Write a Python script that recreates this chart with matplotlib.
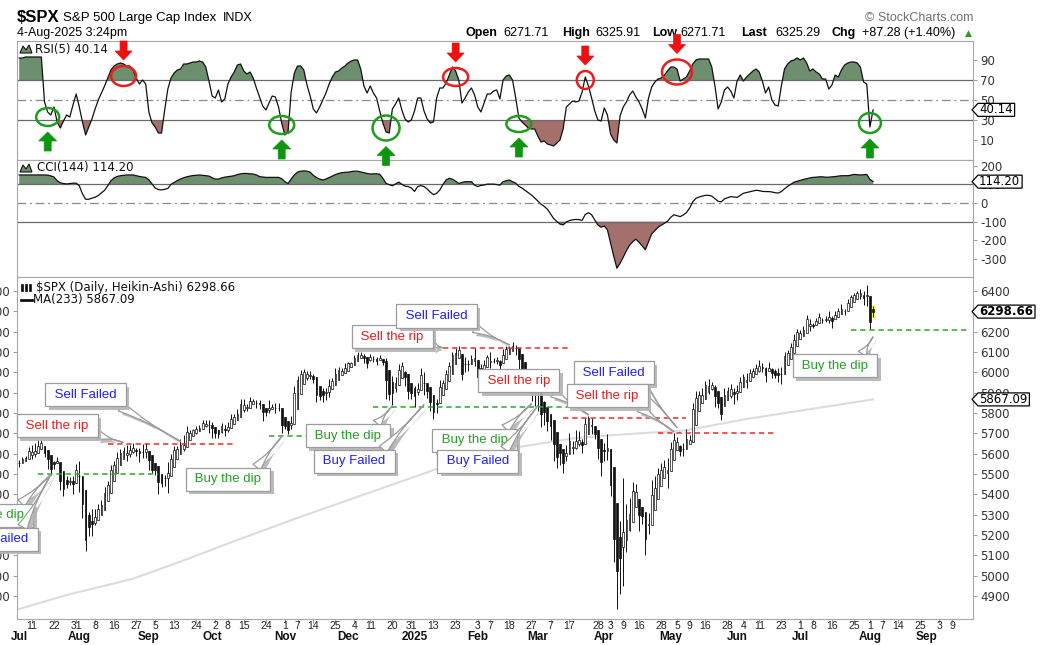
import numpy as np
import pandas as pd
import matplotlib
matplotlib.use("Agg")
import matplotlib.pyplot as plt
from matplotlib.collections import LineCollection, PatchCollection
from matplotlib.patches import Ellipse, Polygon, Rectangle
from matplotlib.transforms import IdentityTransform, blended_transform_factory
import matplotlib.patheffects as pe

# ---------------- DATA ----------------
FIRST_DATE = "2024-07-05"
HOLIDAYS = ["2024-06-19", "2024-07-04", "2024-09-02", "2024-11-28", "2024-12-25",
            "2025-01-01", "2025-01-09", "2025-01-20", "2025-02-17", "2025-04-18",
            "2025-05-26", "2025-06-19", "2025-07-04", "2025-09-01"]

opens = [5537,5572,5584,5591,5636,5591,5638,5644,5610,5608,
5544,5543,5565,5506,5429,5433,5477,5479,5505,5537,
5377,5151,5206,5294,5252,5313,5351,5376,5443,5502,
5531,5558,5609,5604,5638,5603,5639,5603,5624,5608,
5612,5612,5506,5530,5507,5442,5490,5496,5558,5604,
5615,5655,5641,5703,5709,5713,5728,5733,5762,5756,
5727,5758,5699,5696,5737,5737,5714,5751,5778,5775,
5829,5867,5816,5875,5860,5857,5833,5834,5810,5827,
5830,5819,5833,5775,5724,5724,5722,5864,5947,5977,
6008,6004,5985,5989,5912,5870,5860,5919,5935,5947,
5992,6000,6014,6003,6040,6043,6059,6090,6082,6084,
6057,6060,6074,6068,6063,6053,6047,5913,5843,5941,
5985,6024,6006,5921,5920,5903,5892,5983,5994,5911,
5890,5783,5866,5905,5963,5986,6015,6082,6076,6121,
5970,6027,6058,6058,6096,5970,5998,6021,6072,6084,
6046,6049,6025,6060,6116,6121,6118,6134,6115,6027,
5983,5971,5981,5856,5969,5811,5782,5786,5726,5705,
5604,5624,5594,5563,5635,5654,5632,5646,5630,5718,
5776,5772,5696,5680,5527,5598,5580,5492,5292,4953,
5193,4965,5353,5255,5441,5411,5335,5305,5232,5207,
5395,5381,5489,5529,5508,5499,5626,5645,5655,5605,
5623,5663,5679,5807,5854,5895,5867,5929,5903,5951,
5924,5842,5781,5854,5925,5939,5903,5897,5938,5978,
5985,5988,6005,6009,6049,6010,5997,6005,6013,5987,
6005,5970,6061,6100,6112,6150,6194,6187,6193,6244,
6259,6234,6240,6269,6255,6255,6296,6260,6270,6308,
6304,6307,6326,6368,6371,6397,6410,6376,6428,6268,
6272]

highs = [5570,5583,5590,5635,5642,5655,5667,5667,5622,5615,
5557,5566,5586,5508,5491,5488,5487,5489,5551,5566,
5397,5250,5312,5330,5328,5351,5371,5436,5464,5546,
5563,5608,5621,5632,5644,5642,5651,5630,5627,5647,
5651,5612,5552,5552,5523,5484,5497,5560,5600,5636,
5637,5670,5690,5734,5716,5722,5736,5742,5767,5764,
5765,5758,5719,5714,5753,5739,5757,5796,5796,5822,
5871,5870,5846,5879,5871,5866,5863,5835,5817,5862,
5843,5848,5851,5776,5772,5741,5783,5933,5983,6012,
6017,6009,6008,5994,5915,5909,5923,5921,5965,5974,
6020,6025,6021,6044,6053,6052,6087,6099,6099,6088,
6066,6092,6080,6078,6085,6058,6070,5935,5982,5979,
6041,6049,6007,5941,5929,5935,5949,6021,6000,5927,
5890,5838,5871,5960,5964,6014,6052,6101,6119,6128,
6018,6074,6062,6086,6120,6022,6042,6062,6084,6101,
6073,6076,6063,6116,6128,6129,6147,6134,6117,6044,
5993,6000,5994,5959,5987,5865,5860,5812,5783,5706,
5636,5642,5598,5645,5703,5660,5715,5711,5670,5775,
5786,5776,5732,5685,5616,5651,5695,5500,5292,5246,
5268,5481,5353,5381,5459,5450,5367,5328,5232,5309,
5469,5489,5528,5553,5567,5581,5659,5700,5683,5643,
5655,5721,5691,5847,5907,5907,5925,5958,5969,5954,
5939,5878,5829,5924,5929,5943,5922,5937,5978,5991,
5999,6017,6021,6043,6059,6046,6027,6050,6023,6018,
6019,6028,6101,6109,6146,6188,6215,6210,6227,6284,
6262,6243,6269,6290,6269,6275,6302,6275,6302,6316,
6336,6310,6359,6382,6390,6402,6410,6399,6428,6268,
6326]

lows = [5534,5563,5574,5586,5576,5583,5619,5632,5583,5523,
5497,5525,5553,5420,5391,5430,5444,5401,5505,5411,
5283,5119,5193,5195,5249,5302,5325,5376,5419,5497,
5528,5551,5584,5592,5565,5585,5603,5590,5561,5577,
5581,5522,5503,5497,5402,5434,5442,5406,5536,5600,
5603,5615,5615,5681,5683,5703,5698,5712,5720,5730,
5704,5675,5677,5675,5703,5686,5708,5745,5763,5775,
5824,5804,5808,5840,5846,5824,5821,5762,5784,5799,
5823,5800,5810,5703,5723,5696,5722,5864,5944,5976,
5986,5964,5966,5946,5853,5866,5855,5866,5879,5942,
5963,5992,5985,6003,6035,6034,6056,6074,6079,6048,
6021,6057,6051,6035,6059,6036,5867,5866,5832,5903,
5982,6007,5932,5869,5869,5830,5889,5960,5890,5874,
5809,5773,5801,5905,5935,5978,6009,6074,6074,6088,
5962,6000,6008,6047,6031,5923,5990,6008,6056,6020,
6046,6043,6004,6050,6107,6099,6111,6085,6009,5977,
5908,5930,5858,5837,5810,5732,5743,5711,5667,5565,
5529,5546,5505,5563,5631,5598,5622,5640,5603,5718,
5763,5696,5670,5572,5489,5562,5571,5391,5069,4835,
4910,4950,5115,5220,5358,5387,5220,5255,5101,5207,
5356,5371,5455,5468,5505,5433,5597,5644,5640,5590,
5587,5640,5647,5787,5854,5868,5851,5914,5896,5912,
5830,5827,5768,5854,5886,5875,5843,5862,5922,5967,
5921,5986,5994,6000,6002,6004,5953,6005,5974,5971,
5952,5944,6059,6081,6107,6133,6178,6178,6187,6240,
6201,6216,6236,6259,6241,6248,6243,6220,6264,6288,
6303,6280,6316,6361,6365,6379,6361,6332,6325,6212,
6272]

closes = [5567,5572,5577,5633,5585,5615,5631,5667,5589,5545,
5505,5564,5555,5427,5399,5459,5464,5436,5522,5446,
5346,5186,5240,5199,5319,5344,5344,5434,5455,5543,
5554,5608,5597,5621,5571,5635,5617,5626,5592,5592,
5648,5529,5520,5503,5408,5471,5496,5554,5596,5626,
5633,5634,5618,5714,5703,5719,5732,5722,5745,5738,
5762,5709,5710,5700,5751,5696,5751,5792,5780,5815,
5859,5815,5842,5841,5865,5853,5851,5797,5809,5808,
5823,5832,5813,5705,5729,5712,5782,5929,5973,5996,
6001,5984,5985,5949,5871,5894,5917,5917,5949,5969,
5987,6021,5999,6032,6047,6050,6087,6075,6090,6053,
6035,6085,6051,6051,6074,6050,5872,5867,5931,5974,
6040,6037,5971,5907,5882,5869,5942,5975,5909,5918,
5827,5836,5843,5950,5937,5997,6049,6086,6119,6101,
6012,6068,6039,6071,6041,5994,6037,6061,6084,6026,
6066,6069,6052,6115,6115,6129,6144,6118,6013,5983,
5955,5956,5861,5955,5850,5778,5842,5739,5770,5615,
5572,5599,5522,5639,5675,5615,5676,5663,5668,5768,
5777,5712,5693,5581,5612,5633,5671,5397,5074,5062,
4983,5457,5268,5363,5406,5397,5276,5283,5158,5288,
5376,5485,5525,5529,5561,5569,5604,5687,5650,5607,
5631,5664,5660,5844,5887,5892,5917,5958,5964,5940,
5845,5842,5803,5922,5889,5912,5912,5936,5970,5971,
5939,6000,6006,6038,6022,6045,5977,6033,5982,5981,
5967,6025,6092,6092,6141,6173,6205,6198,6227,6279,
6230,6226,6263,6280,6260,6269,6244,6264,6297,6297,
6306,6309,6359,6363,6389,6390,6371,6362,6339,6238,
6325]

rsi5 = [92,92,93,93,93,93,93,93,48,38,
35,43,28,22,29,35,33,45,56,43,
28,15,23,31,41,50,57,64,72,80,
84,86,87,86,84,84,80,72,66,70,
66,38,27,23,17,17,40,61,72,77,
80,81,86,86,87,88,88,89,88,83,
69,54,52,60,48,51,66,73,78,85,
86,79,76,78,72,62,53,44,40,47,
54,53,43,27,15,18,58,77,84,84,
80,65,54,41,37,43,50,57,66,73,
78,79,82,84,87,89,90,90,81,64,
57,64,57,52,39,27,18,17,41,46,
52,40,31,28,30,39,52,52,39,31,
27,28,52,62,62,67,75,83,79,70,
47,52,58,62,55,43,38,47,56,56,
59,60,51,70,74,75,70,52,32,28,
25,22,21,21,14,8,9,6,5,4,
7,10,21,43,46,49,48,49,58,73,
64,52,39,30,29,42,35,16,10,7,
34,43,48,55,59,53,48,41,32,52,
63,68,71,72,75,79,83,83,81,69,
71,73,79,86,90,91,91,91,91,83,
64,41,48,60,63,59,52,69,75,69,
73,76,79,81,78,69,57,63,50,45,
44,64,81,86,89,90,92,90,92,87,
79,81,78,76,71,71,61,65,75,73,
80,85,87,88,88,87,83,68,66,23,
40.14]

cci144 = [150,150,150,150,150,150,150,150,150,149,
145,139,119,108,104,102,104,106,106,92,
49,20,20,26,31,40,54,68,92,119,
134,142,146,148,150,150,150,146,142,139,
137,124,102,80,72,70,73,78,100,110,
120,128,135,140,144,147,148,150,148,146,
144,135,128,128,134,138,141,143,146,152,
156,158,158,156,155,150,141,139,137,137,
137,137,137,130,114,104,128,150,165,170,
172,170,165,148,136,128,123,128,136,144,
152,158,162,164,165,168,170,170,166,162,
158,155,156,156,154,132,105,98,92,102,
112,100,90,88,80,62,88,93,88,75,
58,45,52,70,99,123,132,127,117,104,
110,114,114,114,95,88,94,96,101,101,
101,99,95,114,119,123,114,106,89,80,
67,55,42,27,10,-6,-18,-33,-58,-83,
-99,-113,-117,-102,-94,-90,-88,-89,-93,-61,
-52,-63,-90,-118,-130,-123,-144,-215,-285,-349,
-323,-290,-255,-226,-207,-194,-210,-230,-250,-207,
-165,-148,-130,-119,-109,-98,-77,-63,-68,-73,
-64,-51,-27,7,25,32,37,41,41,37,
23,9,6,22,28,34,32,30,41,52,
56,60,64,68,66,62,61,61,59,55,
53,61,76,89,100,111,116,121,126,130,
134,137,138,140,140,138,138,140,141,144,
146,146,146,149,153,151,150,151,153,127,
114.20]

ma_dates = ["2024-07-05", "2024-07-26", "2024-08-26", "2024-09-19", "2024-10-10",
            "2024-11-08", "2024-12-11", "2025-01-15", "2025-02-21", "2025-03-18",
            "2025-04-08", "2025-05-08", "2025-06-04", "2025-06-27", "2025-08-04"]
ma_values = [4836, 4905, 4985, 5081, 5170, 5290, 5410, 5530, 5633, 5675,
             5694, 5715, 5768, 5807, 5867]

tick_dates = ["2024-07-11", "2024-07-22", "2024-07-31", "2024-08-08", "2024-08-16", "2024-08-27",
              "2024-09-05", "2024-09-13", "2024-09-24", "2024-10-02", "2024-10-08", "2024-10-15",
              "2024-10-24", "2024-11-01", "2024-11-07", "2024-11-14", "2024-11-25", "2024-12-04",
              "2024-12-11", "2024-12-20", "2024-12-31", "2025-01-13", "2025-01-23", "2025-02-03",
              "2025-02-07", "2025-02-18", "2025-02-27", "2025-03-07", "2025-03-17", "2025-03-28",
              "2025-04-03", "2025-04-09", "2025-04-16", "2025-04-28", "2025-05-05", "2025-05-09",
              "2025-05-16", "2025-05-28", "2025-06-04", "2025-06-11", "2025-06-23", "2025-07-01",
              "2025-07-08", "2025-07-16", "2025-07-25", "2025-08-01", "2025-08-07", "2025-08-14",
              "2025-08-25", "2025-09-03", "2025-09-09"]
month_labels = ["Jul", "Aug", "Sep", "Oct", "Nov", "Dec", "2025", "Feb", "Mar", "Apr",
                "May", "Jun", "Jul", "Aug", "Sep"]
month_dates = ["2024-07-05", "2024-08-01", "2024-09-03", "2024-10-01", "2024-11-01",
               "2024-12-02", "2025-01-02", "2025-02-03", "2025-03-03", "2025-04-01",
               "2025-05-01", "2025-06-02", "2025-07-01", "2025-08-01", "2025-08-27"]

price_ticks = [4900, 5000, 5100, 5200, 5300, 5400, 5500, 5600, 5700, 5800, 5900,
               6000, 6100, 6200, 6300, 6400]
rsi_ticks = [10, 30, 50, 70, 90]
cci_ticks = [200, 100, 0, -100, -200, -300]

# annotation lines (user drawn levels)
level_values = [5650, 5498, 5689, 5831, 6120, 5777, 5704, 6209]
level_start = ["2024-08-14", "2024-07-15", "2024-10-25", "2024-12-12", "2025-01-16",
               "2025-03-13", "2025-04-25", "2025-07-24"]
level_end = ["2024-10-10", "2024-09-06", "2024-12-20", "2025-03-18", "2025-03-17",
             "2025-05-08", "2025-06-18", "2025-09-16"]
level_kind = ["sell", "buy", "buy", "buy", "sell", "sell", "sell", "buy"]

# callouts
call_text = ["Sell the rip", "Sell Failed", "Buy the dip", "Buy Failed", "Buy the dip",
             "Buy the dip", "Buy Failed", "Sell the rip", "Sell Failed", "Buy the dip",
             "Buy Failed", "Sell the rip", "Sell Failed", "Sell the rip", "Buy the dip"]
call_box_date = ["2024-07-23", "2024-08-05", "2024-06-21", "2024-06-25", "2024-10-08",
                 "2024-12-02", "2024-12-04", "2024-12-20", "2025-01-14", "2025-01-31",
                 "2025-02-03", "2025-02-21", "2025-04-04", "2025-04-02", "2025-07-17"]
call_box_price = [5738, 5890, 5297, 5180, 5474, 5689, 5562, 6175, 6277, 5665,
                  5562, 5959, 5998, 5885, 6032]
call_tip_date = ["2024-08-21", "2024-09-17", "2024-07-19", "2024-07-19", "2024-10-31",
                 "2024-12-20", "2025-01-07", "2025-01-16", "2025-02-18", "2025-02-27",
                 "2025-03-03", "2025-03-25", "2025-05-05", "2025-05-02", "2025-08-04"]
call_tip_price = [5655, 5660, 5498, 5498, 5684, 5836, 5841, 6121, 6135, 5846,
                  5836, 5792, 5728, 5709, 6175]

# RSI signal circles
sig_dates = ["2024-07-18", "2024-08-21", "2024-10-31", "2024-12-18", "2025-01-23",
             "2025-02-21", "2025-03-24", "2025-05-05", "2025-08-01"]
sig_levels = [33, 74, 25, 22, 73, 26, 70, 78, 27]
sig_kind = ["buy", "sell", "buy", "buy", "sell", "buy", "sell", "sell", "buy"]

# ---------------- STYLE ----------------
W, H = 1041, 645
C_GREEN_FILL = "#6d8f6d"
C_RED_FILL = "#a4706c"
C_RED = "#ee1c1c"
C_GREEN = "#1e9e1e"
C_BLUE = "#1f1fff"
TXT_COL = {"Sell the rip": "#f01a1a", "Sell Failed": C_BLUE, "Buy the dip": "#22a322",
           "Buy Failed": C_BLUE}
LEVEL_COL = {"sell": "#f02a2a", "buy": "#2ea62e"}
NARROW = ["Liberation Sans Narrow", "Liberation Sans"]

plt.rcParams["font.family"] = ["DejaVu Sans"]

cal = pd.bdate_range("2024-06-03", "2025-10-31")
cal = cal[~cal.isin(pd.to_datetime(HOLIDAYS))]
base = cal.get_loc(pd.Timestamp(FIRST_DATE))


def xi(d):
    return cal.get_loc(pd.Timestamp(d)) - base


n = min(len(opens), len(highs), len(lows), len(closes), len(rsi5), len(cci144))
o = np.array(opens[:n], float)
h = np.array(highs[:n], float)
l = np.array(lows[:n], float)
c = np.array(closes[:n], float)
x = np.arange(n)

# Heikin-Ashi transform of the OHLC bars
ha_c = (o + h + l + c) / 4.0
ha_o = np.empty(n)
ha_o[0] = (o[0] + c[0]) / 2.0
for k in range(1, n):
    ha_o[k] = (ha_o[k - 1] + ha_c[k - 1]) / 2.0
ha_h = np.maximum.reduce([h, ha_o, ha_c])
ha_l = np.minimum.reduce([l, ha_o, ha_c])

fig = plt.figure(figsize=(W / 100, H / 100), dpi=100, facecolor="white")


def rect(x0, y0, x1, y1):
    return [x0 / W, 1 - y1 / H, (x1 - x0) / W, (y1 - y0) / H]


def ptext(px, py, s, **kw):
    return fig.text(px / W, 1 - py / H, s, **kw)


ax_rsi = fig.add_axes(rect(17, 41, 973, 160))
ax_cci = fig.add_axes(rect(17, 160, 973, 277))
ax_px = fig.add_axes(rect(17, 277, 973, 619))
XL = (-0.7, 301.6)
for ax in (ax_rsi, ax_cci, ax_px):
    ax.set_xlim(*XL)
    for s in ax.spines.values():
        s.set_color("#a8a8a8")
        s.set_linewidth(0.8)
    ax.tick_params(axis="y", which="both", direction="out", length=3, width=0.6,
                   color="#8a8a8a", labelsize=8.5, labelcolor="#333333", pad=2)
for ax in (ax_rsi, ax_cci):
    ax.set_xticks([])
    ax.yaxis.tick_right()

# ---------- RSI ----------
rsi = np.array(rsi5[:n], float)
ax_rsi.set_ylim(-10, 109)
ax_rsi.fill_between(x, rsi, 70, where=rsi >= 70, interpolate=True, color=C_GREEN_FILL, lw=0)
ax_rsi.fill_between(x, rsi, 30, where=rsi <= 30, interpolate=True, color=C_RED_FILL, lw=0)
ax_rsi.axhline(70, color="#6a6a6a", lw=0.9)
ax_rsi.axhline(30, color="#6a6a6a", lw=0.9)
ax_rsi.axhline(50, color="#8a8a8a", lw=0.9, ls=(0, (7, 3, 1.5, 3)))
ax_rsi.plot(x, rsi, color="#111111", lw=0.9)
ax_rsi.set_yticks(rsi_ticks)
ax_rsi.set_yticklabels([str(v) for v in rsi_ticks])

# ---------- CCI ----------
cci = np.array(cci144[:n], float)
ax_cci.set_ylim(-396, 230)
ax_cci.fill_between(x, cci, 100, where=cci >= 100, interpolate=True, color=C_GREEN_FILL, lw=0)
ax_cci.fill_between(x, cci, -100, where=cci <= -100, interpolate=True, color=C_RED_FILL, lw=0)
ax_cci.axhline(100, color="#6a6a6a", lw=0.9)
ax_cci.axhline(-100, color="#6a6a6a", lw=0.9)
ax_cci.axhline(0, color="#8a8a8a", lw=0.9, ls=(0, (7, 3, 1.5, 3)))
ax_cci.plot(x, cci, color="#111111", lw=0.9)
ax_cci.set_yticks(cci_ticks)
ax_cci.set_yticklabels([str(v) for v in cci_ticks])

# ---------- PRICE ----------
ax_px.set_ylim(4787, 6469)
ax_px.plot([xi(d) for d in ma_dates], ma_values, color="#dcdcdc", lw=1.5, zorder=1)
# highlight last bar
ax_px.add_patch(Rectangle((x[-1] - 0.9, ha_l[-1] - 4), 1.8, ha_h[-1] - ha_l[-1] + 8,
                          fc="#ffff66", ec="none", zorder=1.5))
wicks = [[(xx, lo), (xx, hi)] for xx, lo, hi in zip(x, ha_l, ha_h)]
ax_px.add_collection(LineCollection(wicks, colors="#111111", linewidths=0.7, zorder=2))
bw = 0.55
bodies_up, bodies_dn = [], []
for xx, oo, cc in zip(x, ha_o, ha_c):
    lo, hi = min(oo, cc), max(oo, cc)
    r = Rectangle((xx - bw / 2, lo), bw, max(hi - lo, 1.0))
    (bodies_up if cc >= oo else bodies_dn).append(r)
ax_px.add_collection(PatchCollection(bodies_up, facecolor="white", edgecolor="#111111",
                                     linewidths=0.5, zorder=3))
ax_px.add_collection(PatchCollection(bodies_dn, facecolor="#111111", edgecolor="#111111",
                                     linewidths=0.5, zorder=3))

for lv, s0, s1, kd in zip(level_values, level_start, level_end, level_kind):
    ax_px.hlines(lv, xi(s0), xi(s1), colors=LEVEL_COL[kd], linestyles=(0, (3.5, 2.5)),
                 lw=1.1, zorder=4)

ax_px.set_yticks(price_ticks)
ax_px.set_yticklabels([str(v) for v in price_ticks])
ax_px.tick_params(axis="y", left=True, right=True, labelleft=True, labelright=True)
ax_px.set_xticks([xi(d) for d in tick_dates])
ax_px.set_xticklabels([])
ax_px.tick_params(axis="x", direction="out", length=3, width=0.6, color="#8a8a8a")

# callouts
for txt, bd, bp, td, tp in zip(call_text, call_box_date, call_box_price, call_tip_date,
                               call_tip_price):
    bx, tx = xi(bd), xi(td)
    rx = 0.8 if tx > bx else 0.2
    ry = 0.8 if tp > bp else 0.2
    ann = ax_px.annotate(" " + txt + " ", xy=(tx, tp), xytext=(bx, bp), textcoords="data",
                         ha="center", va="center", fontsize=9.5, color=TXT_COL[txt],
                         family="Liberation Sans", zorder=6, annotation_clip=False,
                         bbox=dict(boxstyle="square,pad=0.42", fc="white", ec="#9c9c9c", lw=0.9),
                         arrowprops=dict(arrowstyle="wedge,tail_width=0.75,shrink_factor=0.08",
                                         fc="white", ec="#9c9c9c", lw=0.9, relpos=(rx, ry),
                                         shrinkA=0, shrinkB=0))
    shadow = [pe.SimplePatchShadow(offset=(2.5, -2.5), shadow_rgbFace="#b4b4b4", alpha=0.9),
              pe.Normal()]
    ann.get_bbox_patch().set_path_effects(shadow)
    ann.arrow_patch.set_path_effects(shadow)

# ---------- x labels ----------
tr = blended_transform_factory(ax_px.transData, fig.transFigure)
for d in tick_dates:
    ax_px.text(xi(d), 1 - 626 / H, str(pd.Timestamp(d).day), transform=tr, ha="center",
               va="center", fontsize=7.5, color="#222222", family=NARROW, clip_on=False)
for lab, d in zip(month_labels, month_dates):
    ax_px.text(xi(d), 1 - 637 / H, lab, transform=tr, ha="center", va="center",
               fontsize=8.5, fontweight="bold", color="#111111", family=NARROW, clip_on=False)

# ---------- RSI circles / arrows ----------
ppd = ax_rsi.transData.transform((1, 0))[0] - ax_rsi.transData.transform((0, 0))[0]
ppu = ax_rsi.transData.transform((0, 1))[1] - ax_rsi.transData.transform((0, 0))[1]
sig_w = [23, 25, 25, 27, 25, 25, 17, 30, 22]
sig_h = [18, 20, 18, 25, 18, 16, 18, 25, 20]
for d, lv, kd, wpx, hpx in zip(sig_dates, sig_levels, sig_kind, sig_w, sig_h):
    col = C_RED if kd == "sell" else C_GREEN
    ax_rsi.add_patch(Ellipse((xi(d), lv), wpx / ppd, hpx / ppu, fill=False, ec=col, lw=1.8,
                             zorder=6, clip_on=False))
    cx, cy = ax_rsi.transData.transform((xi(d), lv))
    if kd == "sell":
        yt = cy + hpx / 2 + 6
        pts = [(cx - 3.5, yt + 19), (cx + 3.5, yt + 19), (cx + 3.5, yt + 9), (cx + 8.5, yt + 9),
               (cx, yt), (cx - 8.5, yt + 9), (cx - 3.5, yt + 9)]
        acol = "#ec1010"
    else:
        yt = cy - hpx / 2 - 6
        pts = [(cx - 3.5, yt - 19), (cx + 3.5, yt - 19), (cx + 3.5, yt - 9), (cx + 9, yt - 9),
               (cx, yt), (cx - 9, yt - 9), (cx - 3.5, yt - 9)]
        acol = "#0e960e"
    fig.add_artist(Polygon(pts, closed=True, transform=IdentityTransform(), fc=acol, ec=acol,
                           lw=0.5, zorder=10))

# ---------- legends ----------
LG = dict(fontsize=8.5, color="#111111", va="center", ha="left", family="DejaVu Sans")
ptext(35, 49, "RSI(5) 40.14", **LG)
ptext(37, 168, "CCI(144) 114.20", **LG)
ptext(36, 287, "$SPX (Daily, Heikin-Ashi) 6298.66", **LG)
ptext(33, 300, "MA(233) 5867.09", **LG)


def disp(px, py):
    return (px, H - py)


for yy in (49, 168):
    fig.add_artist(Polygon([disp(20, yy + 4), disp(23, yy - 3), disp(26, yy + 1),
                            disp(29, yy - 4), disp(32, yy + 4)], closed=True,
                           transform=IdentityTransform(), fc=C_GREEN_FILL, ec="#111111",
                           lw=0.8, zorder=5))
for bxp in (21, 25, 29):
    fig.add_artist(Rectangle(disp(bxp, 291), 2, 7, transform=IdentityTransform(),
                             fc="#111111", ec="#111111", lw=0.5, zorder=5))
fig.add_artist(plt.Line2D([21 / W, 32 / W], [1 - 300 / H, 1 - 300 / H], color="#111111", lw=2))

# ---------- header ----------
HF = "Liberation Sans"
ptext(17, 18, "$SPX", fontsize=12, fontweight="bold", family=HF, va="center")
ptext(63, 18, "S&P 500 Large Cap Index", fontsize=9.5, family=HF, va="center")
ptext(223, 18, "INDX", fontsize=9, family=HF, va="center")
ptext(973, 18, "\u00a9 StockCharts.com", fontsize=9, family=HF, va="center", ha="right",
      color="#707070")
ptext(17, 33, "4-Aug-2025 3:24pm", fontsize=9, family=HF, va="center")
hdr = [("Open", True, 465), ("6271.71", False, 503), ("High", True, 562), ("6325.91", False, 595),
       ("Low", True, 652), ("6271.71", False, 680), ("Last", True, 741), ("6325.29", False, 775),
       ("Chg", True, 832), ("+87.28 (+1.40%)", False, 862)]
for s, b, px in hdr:
    ptext(px, 33, s, fontsize=9, family=HF, va="center", fontweight="bold" if b else "normal")
ptext(965, 33, "\u25b2", fontsize=6.5, color="#1e9e1e", va="center", family="DejaVu Sans")

# ---------- value tags on right axis ----------
renderer = fig.canvas.get_renderer()


def value_tag(ax, value, label, bold=False):
    yd = ax.transData.transform((0, value))[1]
    xd = ax.transAxes.transform((1, 0))[0]
    t = fig.text(xd + 6, yd, label, transform=IdentityTransform(), ha="left", va="center",
                 fontsize=8.5, fontweight="bold" if bold else "normal", color="black",
                 family="DejaVu Sans", zorder=21)
    bb = t.get_window_extent(renderer)
    x1 = bb.x1 + 2
    hh = 6.5
    fig.add_artist(Polygon([(xd - 1, yd), (xd + 5, yd + hh), (x1, yd + hh), (x1, yd - hh),
                            (xd + 5, yd - hh)], closed=True, transform=IdentityTransform(),
                           fc="white", ec="black", lw=0.9, zorder=20))


value_tag(ax_rsi, rsi[-1], "40.14")
value_tag(ax_cci, cci[-1], "114.20")
value_tag(ax_px, ha_c[-1], "6298.66", bold=True)
value_tag(ax_px, ma_values[-1], "5867.09")

fig.savefig("out.png", dpi=100, facecolor="white")
